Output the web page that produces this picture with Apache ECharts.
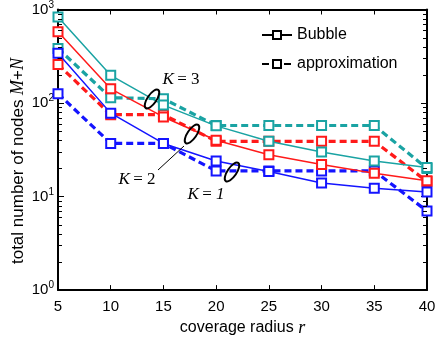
<!DOCTYPE html>
<html>
<head>
<meta charset="utf-8">
<script src="https://cdn.jsdelivr.net/npm/echarts@6/dist/echarts.min.js"></script>
<style>
  html, body { margin: 0; padding: 0; background: #fff; }
  #chart { width: 439px; height: 342px; }
</style>
</head>
<body>
<div id="chart"></div>
<script>
// coverage radius r (x axis)
const radius = [5, 10, 15, 20, 25, 30, 35, 40];

// total number of nodes M+N for each K
const k3Bubble = [830, 198, 95, 57, 39, 30, 24, 20.5];
const k3Approx = [383, 114, 111, 57.5, 57.5, 57.5, 57.5, 20];
const k2Bubble = [578, 142, 71, 40, 28, 22, 17.8, 14.8];
const k2Approx = [258, 75, 75, 39, 39, 39, 39, 14.5];
const k1Bubble = [340, 78, 37, 24, 18.5, 14, 12.3, 11.2];
const k1Approx = [126, 37, 37, 18.8, 18.8, 18.8, 18.8, 7];

// minor tick positions of the log axis
const yMinor = [2,3,4,5,6,7,8,9,20,30,40,50,60,70,80,90,200,300,400,500,600,700,800,900];

const CYAN = '#1aa3a3', RED = '#ff1a1a', BLUE = '#1414ff';
const FONT = '"Liberation Sans", Arial, sans-serif';
const SERIF = '"Liberation Serif", "Times New Roman", serif';

function pairs(vals) { return radius.map((r, i) => [r, vals[i]]); }

function lineSeries(name, vals, color, dashed) {
  return {
    name: name,
    type: 'line',
    data: pairs(vals),
    symbol: 'emptyRect',
    symbolSize: 9,
    itemStyle: { color: color, borderWidth: 1.5 },
    lineStyle: dashed
      ? { color: color, width: 3.2, type: [7, 4] }
      : { color: color, width: 1.5 },
    emphasis: { disabled: true },
    z: dashed ? 3 : 4
  };
}

const chart = echarts.init(document.getElementById('chart'), null, { renderer: 'canvas' });

const kRich = {
  k: { fontFamily: SERIF, fontStyle: 'italic', fontSize: 17, fill: '#000' },
  e: { fontFamily: SERIF, fontSize: 17, fill: '#000' },
  n: { fontFamily: SERIF, fontStyle: 'italic', fontSize: 17, fill: '#000' }
};

chart.setOption({
  animation: false,
  backgroundColor: '#fff',
  grid: { left: 58, right: 12, top: 8, bottom: 44, containLabel: false },
  legend: {
    data: ['Bubble', 'approximation'],
    orient: 'vertical',
    left: 256, top: 22,
    itemWidth: 30, itemHeight: 10, itemGap: 13,
    textStyle: { fontFamily: FONT, fontSize: 16, color: '#000' },
    selectedMode: false
  },
  xAxis: [{
    type: 'value', min: 5, max: 40, interval: 5,
    axisLine: { lineStyle: { color: '#000', width: 2 } },
    axisTick: { inside: true, length: 5, lineStyle: { color: '#000', width: 1 } },
    axisLabel: { fontFamily: FONT, fontSize: 15, color: '#000', margin: 9 },
    splitLine: { show: false },
    name: '{t|coverage radius }{i|r}',
    nameLocation: 'middle', nameGap: 27,
    nameTextStyle: {
      rich: {
        t: { fontFamily: FONT, fontSize: 16, color: '#000' },
        i: { fontFamily: SERIF, fontSize: 18, fontStyle: 'italic', color: '#000' }
      }
    }
  }, {
    type: 'value', min: 5, max: 40, interval: 5, position: 'top',
    axisLine: { lineStyle: { color: '#000', width: 2 } },
    axisTick: { inside: true, length: 5, lineStyle: { color: '#000', width: 1 } },
    axisLabel: { show: false }, splitLine: { show: false }
  }],
  yAxis: [{
    type: 'log', logBase: 10, min: 1, max: 1000,
    axisLine: { show: true, lineStyle: { color: '#000', width: 2 } },
    axisTick: { inside: true, length: 6, lineStyle: { color: '#000', width: 1 } },
    axisLabel: {
      margin: 4,
      formatter: v => '{b|10}{s|' + Math.round(Math.log10(v)) + '}',
      rich: {
        b: { fontFamily: FONT, fontSize: 15, color: '#000' },
        s: { fontFamily: FONT, fontSize: 10, color: '#000', padding: [0, 0, 9, 0] }
      }
    },
    splitLine: { show: false }
  }, {
    type: 'log', logBase: 10, min: 1, max: 1000, position: 'right',
    axisLine: { show: true, lineStyle: { color: '#000', width: 2 } },
    axisTick: { inside: true, length: 6, lineStyle: { color: '#000', width: 1 } },
    axisLabel: { show: false }, splitLine: { show: false }
  }],
  series: [
    lineSeries('K3 approximation', k3Approx, CYAN, true),
    lineSeries('K2 approximation', k2Approx, RED, true),
    lineSeries('K1 approximation', k1Approx, BLUE, true),
    lineSeries('K3 Bubble', k3Bubble, CYAN, false),
    lineSeries('K2 Bubble', k2Bubble, RED, false),
    lineSeries('K1 Bubble', k1Bubble, BLUE, false),
    // legend keys in black
    {
      name: 'Bubble', type: 'line', data: [],
      symbol: 'emptyRect', symbolSize: 8,
      itemStyle: { color: '#000', borderWidth: 1.5 },
      lineStyle: { color: '#000', width: 1.5 }
    },
    {
      name: 'approximation', type: 'line', data: [],
      symbol: 'emptyRect', symbolSize: 8,
      itemStyle: { color: '#000', borderWidth: 1.5 },
      lineStyle: { color: '#000', width: 3.2, type: [7, 4] }
    }
  ]
});

// minor ticks on both log axes, placed through the axis scale
const tickLines = [];
const finder = { xAxisIndex: 0, yAxisIndex: 0 };
yMinor.forEach(v => {
  const l = chart.convertToPixel(finder, [5, v]);
  const r = chart.convertToPixel(finder, [40, v]);
  if (!l || !r) return;
  const yl = Math.round(l[1]) + 0.5, yr = Math.round(r[1]) + 0.5;
  tickLines.push({ type: 'line', silent: true, z: 20,
    shape: { x1: l[0], y1: yl, x2: l[0] + 4, y2: yl },
    style: { stroke: '#000', lineWidth: 1 } });
  tickLines.push({ type: 'line', silent: true, z: 20,
    shape: { x1: r[0], y1: yr, x2: r[0] - 4, y2: yr },
    style: { stroke: '#000', lineWidth: 1 } });
});

chart.setOption({
  graphic: tickLines.concat([
    // y axis title
    { type: 'text', x: 18, y: 161, rotation: Math.PI / 2, z: 20,
      style: { text: '{t|total number of nodes }{i|M}{t|+}{i|N}', align: 'center', verticalAlign: 'middle',
        rich: {
          t: { fontFamily: FONT, fontSize: 17, fill: '#000' },
          i: { fontFamily: SERIF, fontStyle: 'italic', fontSize: 18, fill: '#000' }
        } } },
    // K = 3 group marker
    { type: 'ellipse', shape: { cx: 0, cy: 0, rx: 4.5, ry: 11 }, x: 152, y: 99, rotation: -0.6,
      style: { fill: null, stroke: '#000', lineWidth: 2 }, z: 20 },
    { type: 'text', x: 181, y: 80, z: 20,
      style: { text: '{k|K} {e|= 3}', align: 'center', verticalAlign: 'middle', rich: kRich } },
    // K = 2 group marker
    { type: 'ellipse', shape: { cx: 0, cy: 0, rx: 4.5, ry: 11 }, x: 192, y: 134, rotation: -0.6,
      style: { fill: null, stroke: '#000', lineWidth: 2 }, z: 20 },
    { type: 'line', shape: { x1: 158, y1: 170, x2: 184, y2: 146 },
      style: { stroke: '#000', lineWidth: 1 }, z: 20 },
    { type: 'text', x: 137, y: 180, z: 20,
      style: { text: '{k|K} {e|= 2}', align: 'center', verticalAlign: 'middle', rich: kRich } },
    // K = 1 group marker
    { type: 'ellipse', shape: { cx: 0, cy: 0, rx: 4.5, ry: 11 }, x: 232, y: 172, rotation: -0.6,
      style: { fill: null, stroke: '#000', lineWidth: 2 }, z: 20 },
    { type: 'text', x: 206, y: 195, z: 20,
      style: { text: '{k|K} {e|= }{n|1}', align: 'center', verticalAlign: 'middle', rich: kRich } }
  ])
});
</script>
</body>
</html>
